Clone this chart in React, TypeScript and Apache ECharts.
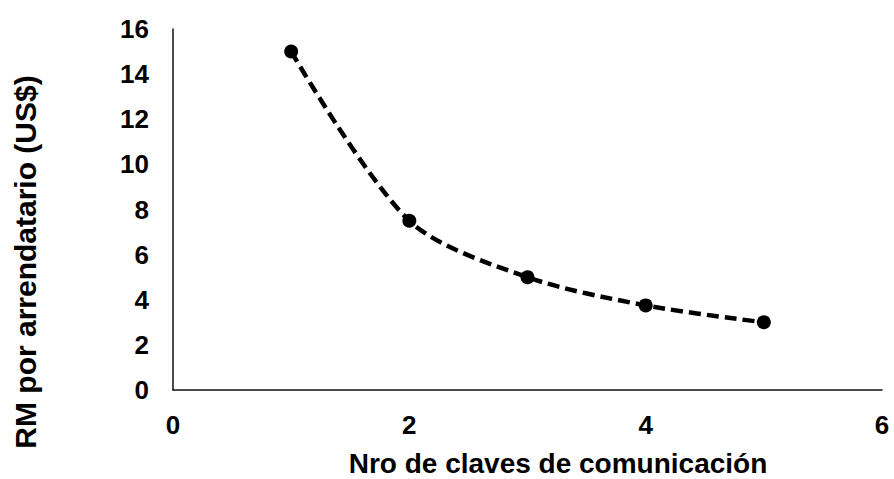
import React, { useEffect, useRef } from "react";
import * as echarts from "echarts";

const xValues = [1, 2, 3, 4, 5];
const yValues = [15, 7.5, 5, 3.75, 3];
const xTitle = "Nro de claves de comunicación";
const yTitle = "RM por arrendatario (US$)";

export default function App() {
  const ref = useRef<HTMLDivElement>(null);
  useEffect(() => {
    if (!ref.current) return;
    const chart = echarts.init(ref.current, null, { renderer: "svg" });
    const font = "'Liberation Sans', Arial, sans-serif";
    chart.setOption({
      animation: false,
      backgroundColor: "#fff",
      grid: { left: 173, right: 12, top: 29, bottom: 89 },
      xAxis: {
        type: "value",
        min: 0,
        max: 6,
        interval: 2,
        axisLine: { show: true, lineStyle: { color: "#111", width: 1.5 } },
        axisTick: { show: false },
        splitLine: { show: false },
        axisLabel: { margin: 22, color: "#000", fontSize: 26, fontWeight: "bold", fontFamily: font },
      },
      yAxis: {
        type: "value",
        min: 0,
        max: 16,
        interval: 2,
        axisLine: { show: true, lineStyle: { color: "#111", width: 1.5 } },
        axisTick: { show: false },
        splitLine: { show: false },
        axisLabel: { margin: 24, color: "#000", fontSize: 26, fontWeight: "bold", fontFamily: font },
      },
      graphic: [
        {
          type: "text",
          x: 558,
          y: 463,
          style: {
            text: xTitle,
            fill: "#000",
            font: `bold 28px ${font}`,
            textAlign: "center",
            textVerticalAlign: "middle",
          },
        },
        {
          type: "text",
          x: 25,
          y: 262,
          rotation: Math.PI / 2,
          style: {
            text: yTitle,
            fill: "#000",
            font: `bold 30px ${font}`,
            textAlign: "center",
            textVerticalAlign: "middle",
          },
        },
      ],
      series: [
        {
          type: "line",
          data: xValues.map((x, i) => [x, yValues[i]]),
          smooth: 0.3,
          symbol: "circle",
          symbolSize: 14,
          itemStyle: { color: "#000" },
          lineStyle: { color: "#000", width: 4.5, type: [12, 6] },
        },
      ],
    });
    return () => chart.dispose();
  }, []);
  return (
    <div
      ref={ref}
      style={{ position: "fixed", left: 0, top: 0, width: 894, height: 479 }}
    />
  );
}
